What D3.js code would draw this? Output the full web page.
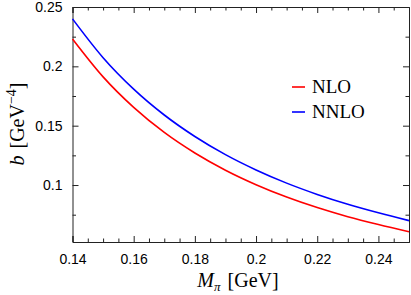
<!DOCTYPE html>
<html>
<head>
<meta charset="utf-8">
<script src="https://cdn.jsdelivr.net/npm/d3@7"></script>
<style>
  body { margin: 0; background: #fff; }
  svg { display: block; }
  .tick text { font-family: "Liberation Sans", Arial, sans-serif; font-size: 14px; fill: #000; }
  .domain { stroke: #222; }
  .tick line { stroke: #222; }
</style>
</head>
<body>
<svg id="chart" width="411" height="295"></svg>
<script>
const mpi = [0.14, 0.15, 0.16, 0.17, 0.18, 0.19, 0.20, 0.21, 0.22, 0.23, 0.24, 0.25]
const nlo = [0.223, 0.1911, 0.1654, 0.1443, 0.1270, 0.1125, 0.1003, 0.0899, 0.0810, 0.0733, 0.0667, 0.0607]
const nnlo = [0.240, 0.2073, 0.1808, 0.1590, 0.1409, 0.1256, 0.1127, 0.1016, 0.0921, 0.0838, 0.0766, 0.0700]
const xTicks = [0.14, 0.16, 0.18, 0.2, 0.22, 0.24]
const yTicks = [0.1, 0.15, 0.2, 0.25]
const series = [
  { name: "NLO", values: nlo, color: "#ff0000" },
  { name: "NNLO", values: nnlo, color: "#0000ff" }
]

const margin = { top: 7, right: 2, bottom: 53, left: 72.5 }
const width = 411 - margin.left - margin.right
const height = 295 - margin.top - margin.bottom

const svg = d3.select("#chart")
  .append("g")
    .attr("transform", "translate(" + margin.left + "," + margin.top + ")")

const xScale = d3.scaleLinear().domain([0.14, 0.25]).range([0, width])
const yScale = d3.scaleLinear().domain([0.052, 0.25]).range([height, 0])

const xMinor = d3.range(0.145, 0.25, 0.005).filter(v => !xTicks.some(t => Math.abs(t - v) < 1e-6))
const yMinor = [0.075, 0.125, 0.175, 0.225]

// major axes with labels
svg.append("g")
  .attr("transform", "translate(0," + height + ")")
  .call(d3.axisBottom(xScale).tickValues(xTicks).tickSize(-6).tickPadding(12)
    .tickFormat(d => d3.format("")(+d.toFixed(2))))
svg.append("g")
  .call(d3.axisLeft(yScale).tickValues(yTicks).tickSize(-6).tickPadding(10)
    .tickFormat(d => d3.format("")(+d.toFixed(2))))
svg.append("g")
  .call(d3.axisTop(xScale).tickValues(xTicks).tickSize(-6).tickFormat(""))
svg.append("g")
  .attr("transform", "translate(" + width + ",0)")
  .call(d3.axisRight(yScale).tickValues(yTicks).tickSize(-6).tickFormat(""))

// minor ticks
svg.append("g")
  .attr("transform", "translate(0," + height + ")")
  .call(d3.axisBottom(xScale).tickValues(xMinor).tickSize(-3.5).tickFormat(""))
  .select(".domain").remove()
svg.append("g")
  .call(d3.axisTop(xScale).tickValues(xMinor).tickSize(-3.5).tickFormat(""))
  .select(".domain").remove()
svg.append("g")
  .call(d3.axisLeft(yScale).tickValues(yMinor).tickSize(-3.5).tickFormat(""))
  .select(".domain").remove()
svg.append("g")
  .attr("transform", "translate(" + width + ",0)")
  .call(d3.axisRight(yScale).tickValues(yMinor).tickSize(-3.5).tickFormat(""))
  .select(".domain").remove()

const line = d3.line()
  .x((d, i) => xScale(mpi[i]))
  .y(d => yScale(d))
  .curve(d3.curveMonotoneX)

svg.selectAll(".curve")
  .data(series)
  .enter()
  .append("path")
    .attr("class", "curve")
    .attr("fill", "none")
    .attr("stroke", d => d.color)
    .attr("stroke-width", 1.6)
    .attr("d", d => line(d.values))

// legend
const legend = svg.selectAll(".legend")
  .data(series)
  .enter()
  .append("g")
    .attr("class", "legend")
    .attr("transform", (d, i) => "translate(" + (292 - margin.left) + "," + (87 - margin.top + i * 25) + ")")
legend.append("line")
  .attr("x1", 0).attr("x2", 13)
  .attr("stroke", d => d.color)
  .attr("stroke-width", 1.6)
legend.append("text")
  .attr("x", 20)
  .attr("y", 6)
  .attr("font-family", "Liberation Serif, serif")
  .attr("font-size", 19)
  .text(d => d.name)

// axis titles
const xt = d3.select("#chart").append("text")
  .attr("x", 238)
  .attr("y", 287)
  .attr("text-anchor", "middle")
  .attr("font-family", "Liberation Serif, serif")
  .attr("font-size", 20)
xt.append("tspan").attr("font-style", "italic").text("M")
xt.append("tspan").attr("font-style", "italic").attr("font-size", 13).attr("dy", 4).text("π")
xt.append("tspan").attr("dy", -4).attr("dx", 7).text("[GeV]")

const yt = d3.select("#chart").append("text")
  .attr("transform", "translate(24,124) rotate(-90)")
  .attr("text-anchor", "middle")
  .attr("font-family", "Liberation Serif, serif")
  .attr("font-size", 20)
yt.append("tspan").attr("font-style", "italic").text("b")
yt.append("tspan").attr("dx", 7).text("[GeV")
yt.append("tspan").attr("font-size", 14).attr("dy", -8).text("−4")
yt.append("tspan").attr("dy", 8).text("]")
</script>
</body>
</html>
